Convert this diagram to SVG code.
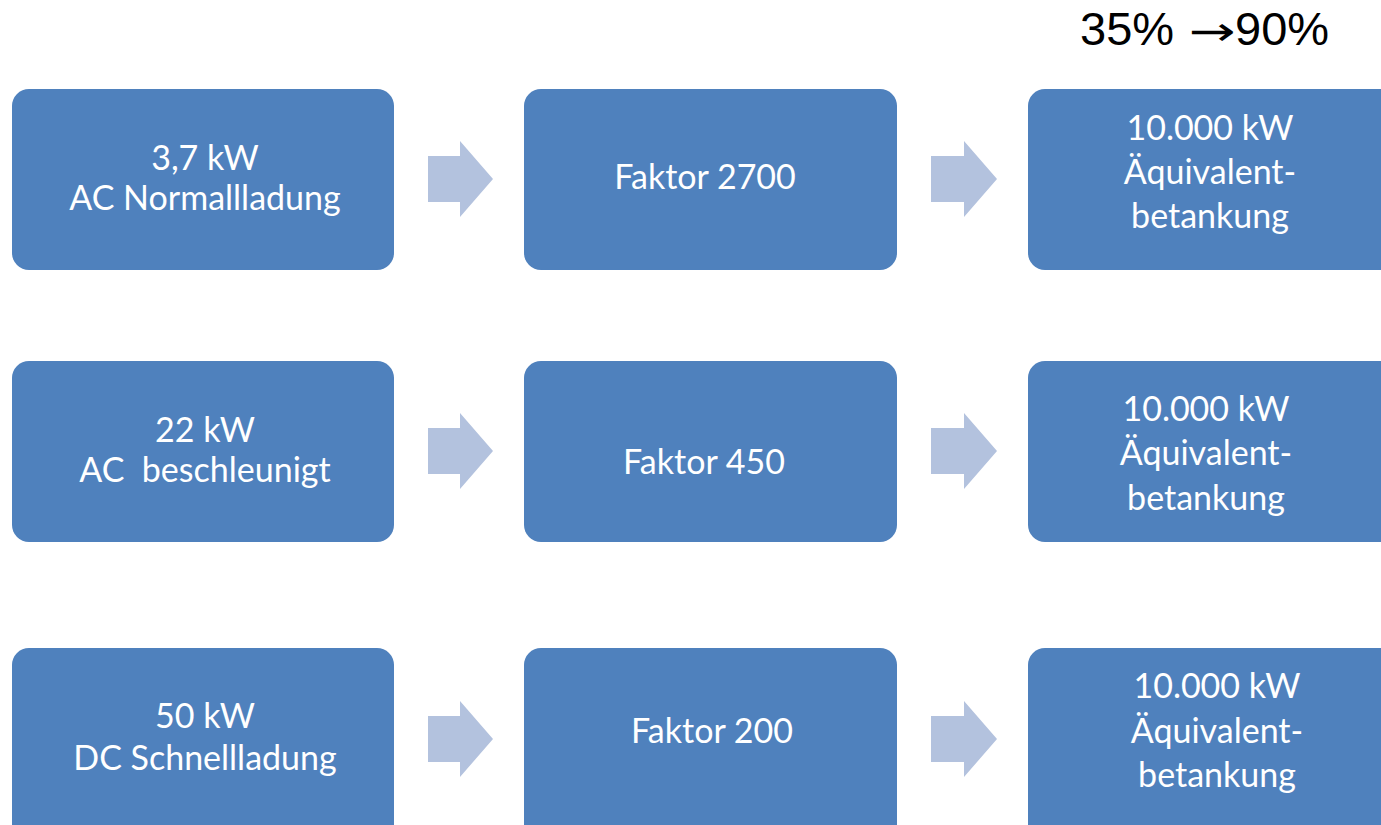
<svg xmlns="http://www.w3.org/2000/svg" width="1381" height="825" viewBox="0 0 1381 825">
<style>
.box{fill:#4F81BD;}
.arr{fill:#B3C2DE;}
.t{font-family:Lato,"Open Sans","Noto Sans",sans-serif;font-size:34px;fill:#FFFFFF;text-anchor:middle;}
.top{font-family:"Liberation Sans",Arial,sans-serif;font-size:47px;fill:#000000;}
.ar{font-family:"DejaVu Sans",sans-serif;font-size:40px;fill:#000000;}
</style>
<rect width="1381" height="825" fill="#FFFFFF"/>
<g id="label">
<text class="top" x="1080" y="45">35%</text>
<text class="ar" transform="translate(1189,45) scale(1.4,1)" x="0" y="0">→</text>
<text class="top" x="1235" y="45">90%</text>
</g>
<g id="connectors">
<polygon class="arr" points="428,156 460,156 460,141 493,179 460,217 460,202 428,202"/>
<polygon class="arr" points="931,156 964,156 964,141 997,179 964,217 964,202 931,202"/>
<polygon class="arr" points="428,428 460,428 460,413 493,451 460,489 460,474 428,474"/>
<polygon class="arr" points="931,428 964,428 964,413 997,451 964,489 964,474 931,474"/>
<polygon class="arr" points="428,716 460,716 460,701 493,739 460,777 460,762 428,762"/>
<polygon class="arr" points="931,716 964,716 964,701 997,739 964,777 964,762 931,762"/>
</g>
<g id="n1a"><rect class="box" x="12" y="89" width="382" height="181" rx="17"/>
<text class="t" x="205" y="170">3,7 kW</text><text class="t" x="205" y="210">AC Normallladung</text></g>
<g id="n1b"><rect class="box" x="524" y="89" width="373" height="181" rx="17"/>
<text class="t" x="705" y="189">Faktor 2700</text></g>
<g id="n1c"><rect class="box" x="1028" y="89" width="373" height="181" rx="17"/>
<text class="t" x="1210" y="140">10.000 kW</text><text class="t" x="1210" y="184">Äquivalent-</text><text class="t" x="1210" y="228">betankung</text></g>
<g id="n2a"><rect class="box" x="12" y="361" width="382" height="181" rx="17"/>
<text class="t" x="205" y="442">22 kW</text><text class="t" x="205" y="482" xml:space="preserve">AC  beschleunigt</text></g>
<g id="n2b"><rect class="box" x="524" y="361" width="373" height="181" rx="17"/>
<text class="t" x="704" y="474">Faktor 450</text></g>
<g id="n2c"><rect class="box" x="1028" y="361" width="373" height="181" rx="17"/>
<text class="t" x="1206" y="421">10.000 kW</text><text class="t" x="1206" y="465">Äquivalent-</text><text class="t" x="1206" y="510">betankung</text></g>
<g id="n3a"><rect class="box" x="12" y="648" width="382" height="200" rx="17"/>
<text class="t" x="205" y="728">50 kW</text><text class="t" x="205" y="770">DC Schnellladung</text></g>
<g id="n3b"><rect class="box" x="524" y="648" width="373" height="200" rx="17"/>
<text class="t" x="712" y="743">Faktor 200</text></g>
<g id="n3c"><rect class="box" x="1028" y="648" width="373" height="200" rx="17"/>
<text class="t" x="1217" y="698">10.000 kW</text><text class="t" x="1217" y="743">Äquivalent-</text><text class="t" x="1217" y="787">betankung</text></g>
</svg>
